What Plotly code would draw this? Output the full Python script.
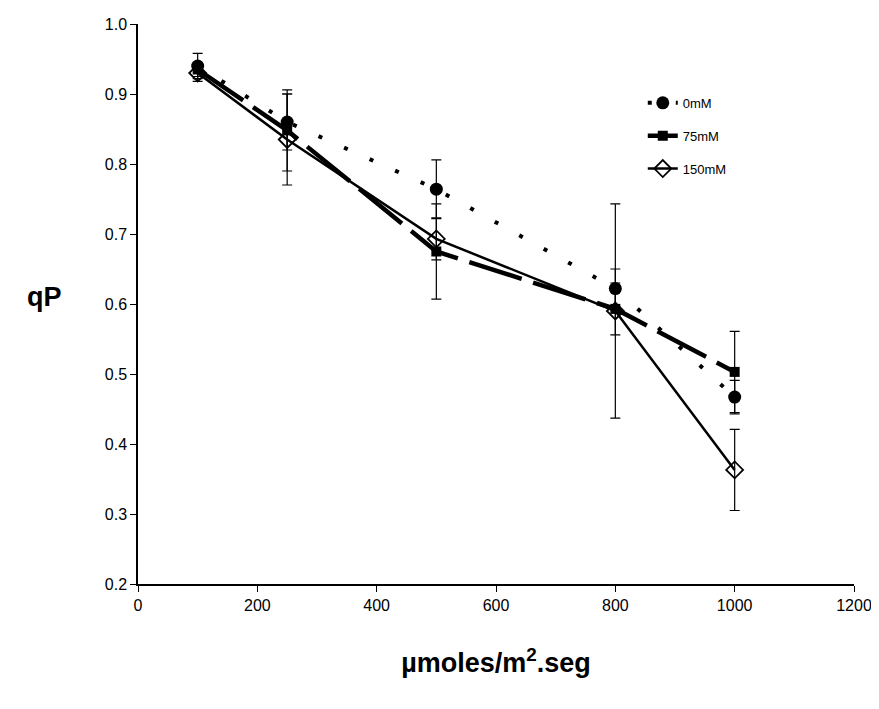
import plotly.graph_objects as go

light = [100, 250, 500, 800, 1000]

qp_0mM = [0.940, 0.860, 0.764, 0.622, 0.467]
err_0mM = [0.018, 0.040, 0.042, 0.028, 0.024]

qp_75mM = [0.935, 0.848, 0.675, 0.593, 0.503]
err_75mM = [0.010, 0.058, 0.068, 0.037, 0.058]

qp_150mM = [0.930, 0.835, 0.693, 0.590, 0.363]
err_150mM = [0.012, 0.065, 0.030, 0.153, 0.058]

series_names = ["0mM", "75mM", "150mM"]
x_ticks = [0, 200, 400, 600, 800, 1000, 1200]
y_ticks = [0.2, 0.3, 0.4, 0.5, 0.6, 0.7, 0.8, 0.9, 1.0]

FONT = "Liberation Sans, Arial, sans-serif"

fig = go.Figure()

fig.add_trace(go.Scatter(
    x=light, y=qp_0mM, name=series_names[0], legendgroup="a",
    mode="lines+markers",
    line=dict(color="black", width=4, dash="4px,24px"),
    marker=dict(symbol="circle", size=13, color="black"),
    error_y=dict(type="data", array=err_0mM, color="black", thickness=1.2, width=5),
))
fig.add_trace(go.Scatter(
    x=light, y=qp_75mM, name=series_names[1], legendgroup="b",
    mode="lines+markers",
    line=dict(color="black", width=4.5, dash="55px,12px"),
    marker=dict(symbol="square", size=10, color="black"),
    error_y=dict(type="data", array=err_75mM, color="black", thickness=1.2, width=5),
))
fig.add_trace(go.Scatter(
    x=light, y=qp_150mM, name=series_names[2], legendgroup="c",
    mode="lines+markers",
    line=dict(color="black", width=2.5),
    marker=dict(symbol="diamond-open", size=13, color="black", line=dict(width=1.8, color="black")),
    error_y=dict(type="data", array=err_150mM, color="black", thickness=1.2, width=5),
))

fig.update_layout(
    width=871, height=693,
    paper_bgcolor="white", plot_bgcolor="white",
    margin=dict(l=130, r=25, t=16, b=117),
    font=dict(family=FONT, color="black", size=16),
    showlegend=True,
    legend=dict(
        x=0.705, y=0.886, xanchor="left", yanchor="top",
        font=dict(family=FONT, size=13, color="black"),
        bgcolor="rgba(0,0,0,0)", tracegroupgap=13,
        itemwidth=30,
    ),
    xaxis=dict(
        range=[0, 1200], tickvals=x_ticks, ticktext=[str(v) for v in x_ticks],
        showgrid=False, zeroline=False, showline=True, linecolor="black", linewidth=1.5,
        ticks="outside", ticklen=6, tickcolor="black", tickfont=dict(size=16),
        automargin=False,
        title=dict(text="<b>\u00b5moles/m<sup>2</sup>.seg</b>", font=dict(size=27), standoff=40),
    ),
    yaxis=dict(
        range=[0.2, 1.0], tickvals=y_ticks, ticktext=[f"{v:.1f}" for v in y_ticks],
        showgrid=False, zeroline=False, showline=True, linecolor="black", linewidth=1.5,
        ticks="outside", ticklen=6, tickcolor="black", tickfont=dict(size=16),
        automargin=False,
    ),
    annotations=[
        dict(text="<b>qP</b>", xref="paper", yref="paper", x=-0.13, y=0.512,
             xanchor="center", yanchor="middle", showarrow=False,
             font=dict(family=FONT, size=27, color="black")),
    ],
)

fig.write_html("out.html")
